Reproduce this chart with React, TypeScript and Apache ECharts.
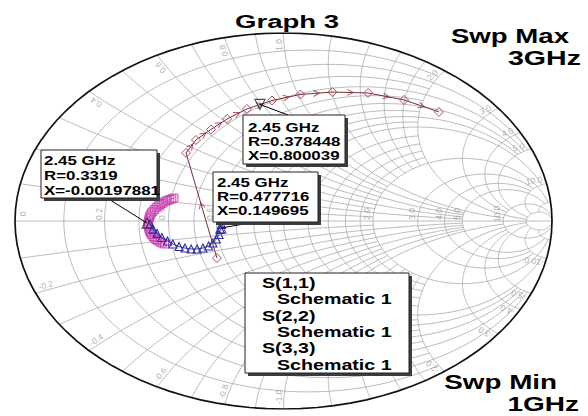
import React, { useEffect, useRef } from "react";
import * as echarts from "echarts";

// ---- Data (reflection coefficient) ----
const S11_RE = [-0.248, -0.363, -0.326, -0.270, -0.210, -0.136, -0.043, 0.063, 0.182, 0.315, 0.449, 0.579];
const S11_IM = [-0.197, 0.362, 0.431, 0.487, 0.543, 0.596, 0.641, 0.673, 0.686, 0.681, 0.644, 0.580];
const S22_RE = [-0.408, -0.416, -0.423, -0.431, -0.438, -0.446, -0.453, -0.460, -0.467, -0.474, -0.480, -0.486, -0.492, -0.496, -0.499, -0.501, -0.503, -0.504, -0.505, -0.503, -0.501, -0.498, -0.495, -0.491, -0.486, -0.481, -0.475, -0.468, -0.460, -0.452, -0.443];
const S22_IM = [0.122, 0.118, 0.114, 0.110, 0.106, 0.100, 0.093, 0.087, 0.080, 0.071, 0.061, 0.052, 0.043, 0.032, 0.021, 0.011, 0.000, -0.011, -0.021, -0.032, -0.043, -0.054, -0.064, -0.073, -0.082, -0.090, -0.098, -0.105, -0.112, -0.117, -0.122];
const S33_RE = [-0.497, -0.486, -0.471, -0.453, -0.432, -0.412, -0.389, -0.367, -0.344, -0.322, -0.300, -0.279, -0.263, -0.250, -0.240, -0.235, -0.231];
const S33_IM = [-0.016, -0.043, -0.066, -0.088, -0.106, -0.122, -0.136, -0.144, -0.149, -0.149, -0.144, -0.133, -0.117, -0.096, -0.072, -0.045, -0.019];
const MARKER_RE = [-0.0875, -0.508, -0.233];
const MARKER_IM = [0.620, -0.011, -0.037];
const ANN_TEXT = [
  ["2.45 GHz", "R=0.3319", "X=-0.00197881"],
  ["2.45 GHz", "R=0.378448", "X=0.800039"],
  ["2.45 GHz", "R=0.477716", "X=0.149695"],
];
const LEGEND_TEXT = ["S(1,1)", "Schematic 1", "S(2,2)", "Schematic 1", "S(3,3)", "Schematic 1"];

// ---- Smith grid spec ----
const R_CIRCLES = [0.1, 0.2, 0.3, 0.4, 0.5, 0.6, 0.7, 0.8, 0.9, 1.0, 1.2, 1.4, 1.6, 1.8, 2.0, 3.0, 4.0, 5.0, 10, 20];
const R_LIMITS = [2, 5, 2, 5, 2, 5, 2, 5, 2, 10, 2, 2, 2, 2, 20, 10, 10, 20, 50, Infinity];
const X_ARCS = [0.1, 0.2, 0.3, 0.4, 0.5, 0.6, 0.7, 0.8, 0.9, 1.0, 1.2, 1.4, 1.6, 1.8, 2.0, 3.0, 4.0, 5.0, 10, 20];
const X_LIMITS = [2, 5, 2, 5, 2, 5, 2, 5, 2, 10, 2, 2, 2, 2, 20, 10, 10, 20, 20, 20];
const R_LABELS = [0, 0.2, 0.4, 0.6, 0.8, 1, 2, 3, 4, 5, 10];
const X_LABELS = [0.2, 0.4, 0.6, 0.8, 1, 2, 3, 4, 5, 10];

const GRID = { left: 15, top: 33, width: 537, height: 376 };
const SX = GRID.width / 2;
const SY = GRID.height / 2;

function gam(r: number, x: number): [number, number] {
  const d = (r + 1) * (r + 1) + x * x;
  return [(r * r + x * x - 1) / d, (2 * x) / d];
}
function rArc(r: number, xmax: number) {
  const pts: [number, number][] = [];
  const N = 100;
  const pm = Math.atan(xmax / (r + 1));
  for (let i = 0; i <= N; i++) {
    const p = -pm + (2 * pm * i) / N;
    pts.push(gam(r, (r + 1) * Math.tan(p)));
  }
  return pts;
}
function xArc(x: number, rmax: number) {
  const pts: [number, number][] = [];
  const N = 100;
  const ax = Math.abs(x);
  const p0 = Math.atan(ax);
  const p1 = Math.max(Math.atan(ax / (rmax + 1)), 1e-5);
  for (let i = 0; i <= N; i++) {
    const p = p0 + ((p1 - p0) * i) / N;
    const r = ax / Math.tan(p) - 1;
    pts.push(gam(Math.max(r, 0), x));
  }
  return pts;
}
const fmt = (v: number) => (v === 0 ? "0" : v.toFixed(1));

export default function App() {
  const ref = useRef<HTMLDivElement>(null);
  useEffect(() => {
    const chart = echarts.init(ref.current!, null, { renderer: "svg" });

    const gridLines: any[] = [];
    R_CIRCLES.forEach((r, i) => gridLines.push({ coords: rArc(r, R_LIMITS[i]) }));
    X_ARCS.forEach((x, i) => {
      gridLines.push({ coords: xArc(x, X_LIMITS[i]) });
      gridLines.push({ coords: xArc(-x, X_LIMITS[i]) });
    });
    gridLines.push({ coords: [[-1, 0], [1, 0]] });

    const labels: any[] = [];
    R_LABELS.forEach((r) => {
      const [gr] = gam(r, 0);
      const dx = r === 0 ? 8 : -6;
      labels.push({ name: fmt(r), value: [gr + dx / SX, 7 / SY], label: { rotate: 90 } });
    });
    X_LABELS.forEach((v) => {
      [v, -v].forEach((x) => {
        const [c, s] = gam(0, x);
        let ux = c * SX, uy = s * SY;
        const L = Math.hypot(ux, uy);
        ux /= L; uy /= L;
        const sg = x > 0 ? 1 : -1;
        const tx = -uy * sg, ty = ux * sg;
        const ox = -12 * ux + 5 * tx, oy = -12 * uy + 5 * ty;
        let ang = (Math.atan2(uy, ux) * 180) / Math.PI;
        if (x < 0) ang += 180;
        if (ang > 180) ang -= 360;
        labels.push({ name: (x < 0 ? "-" : "") + fmt(v), value: [c + ox / SX, s + oy / SY], label: { rotate: ang } });
      });
    });

    const s11 = S11_RE.map((v, i) => [v, S11_IM[i]]);
    const s22 = S22_RE.map((v, i) => [v, S22_IM[i]]);
    const s33 = S33_RE.map((v, i) => [v, S33_IM[i]]);
    const arrows = s11.slice(1).map((p, i) => {
      const q = s11[i];
      const ang = (Math.atan2((p[1] - q[1]) * SY, (p[0] - q[0]) * SX) * 180) / Math.PI;
      return { value: [(p[0] + q[0]) / 2, (p[1] + q[1]) / 2], symbolRotate: ang };
    });

    chart.setOption({
      animation: false,
      backgroundColor: "#ffffff",
      grid: { ...GRID },
      xAxis: { type: "value", min: -1, max: 1, show: false },
      yAxis: { type: "value", min: -1, max: 1, show: false },
      series: [
        {
          type: "lines", coordinateSystem: "cartesian2d", polyline: true, silent: true, z: 1,
          lineStyle: { color: "#ababab", width: 0.8, opacity: 1 },
          data: gridLines,
        },
        {
          type: "lines", coordinateSystem: "cartesian2d", polyline: true, silent: true, z: 3,
          lineStyle: { color: "#111111", width: 1.7, opacity: 1 },
          data: [{ coords: rArc(0, Infinity) }],
        },
        {
          type: "scatter", silent: true, z: 2, symbolSize: 0.1,
          itemStyle: { color: "transparent" },
          label: { show: true, position: "inside", formatter: "{b}", fontSize: 8.5, color: "#9a9a9a", fontFamily: "Liberation Sans" },
          data: labels,
        },
        {
          type: "line", name: "S(2,2)", z: 4, data: s22, symbol: "rect", symbolSize: 8,
          lineStyle: { color: "#c850b8", width: 1 },
          itemStyle: { color: "transparent", borderColor: "#cc44b4", borderWidth: 1 },
        },
        {
          type: "line", name: "S(3,3)", z: 5, data: s33, symbol: "triangle", symbolSize: 8,
          lineStyle: { color: "#33339c", width: 1 },
          itemStyle: { color: "transparent", borderColor: "#2f2fa0", borderWidth: 1.1 },
        },
        {
          type: "line", name: "S(1,1)", z: 6, data: s11, symbol: "diamond", symbolSize: 9,
          lineStyle: { color: "#7a2a34", width: 1 },
          itemStyle: { color: "transparent", borderColor: "#a8505e", borderWidth: 1 },
        },
        {
          type: "scatter", z: 6, silent: true, data: arrows, symbol: "path://M0,0L10,5L0,10", symbolSize: [6, 6],
          itemStyle: { color: "transparent", borderColor: "#8a3a44", borderWidth: 1 },
        },
        {
          type: "scatter", z: 7, silent: true, symbolSize: 10, symbol: "triangle",
          data: [
            { value: [MARKER_RE[0], MARKER_IM[0]], symbolRotate: 180, itemStyle: { borderColor: "#222" } },
            { value: [MARKER_RE[1], MARKER_IM[1]], itemStyle: { borderColor: "#402050" } },
            { value: [MARKER_RE[2], MARKER_IM[2]], itemStyle: { borderColor: "#2a2aa0" } },
          ],
          itemStyle: { color: "transparent", borderWidth: 1.2 },
        },
      ],
    });

    const px = (i: number) => chart.convertToPixel({ gridIndex: 0 }, [MARKER_RE[i], MARKER_IM[i]]) as number[];
    const boxes = [
      { x: 41, y: 150, w: 116, h: 48, rows: [160, 175, 190], tx: 44, anchor: [107, 198], m: 1 },
      { x: 243, y: 115, w: 102, h: 49, rows: [127.5, 141.5, 155.5], tx: 248, anchor: [288, 115], m: 0 },
      { x: 213, y: 172, w: 105, h: 50, rows: [182, 196, 210], tx: 217, anchor: [256, 222], m: 2 },
    ];
    const txt = (text: string, x: number, y: number, size: number, sx: number, align = "left") => ({
      type: "text", x, y, scaleX: sx, z: 120,
      style: {
        text, font: `bold ${size}px "Liberation Sans", Arial, sans-serif`, fill: "#000",
        textAlign: align, align, textVerticalAlign: "middle", verticalAlign: "middle",
      },
    });
    const box = (x: number, y: number, w: number, h: number) => [
      { type: "rect", z: 110, shape: { x: x + 3, y: y + 3, width: w, height: h }, style: { fill: "#3c3c3c" } },
      { type: "rect", z: 111, shape: { x, y, width: w, height: h }, style: { fill: "#fff", stroke: "#222", lineWidth: 1 } },
    ];
    const g: any[] = [];
    boxes.forEach((b, i) => {
      const p = px(b.m);
      g.push({ type: "line", z: 105, shape: { x1: b.anchor[0], y1: b.anchor[1], x2: p[0], y2: p[1] }, style: { stroke: "#000", lineWidth: 1 } });
      g.push(...box(b.x, b.y, b.w, b.h));
      ANN_TEXT[i].forEach((t, j) => g.push(txt(t, b.tx, b.rows[j], 13, 1.3)));
    });
    g.push(...box(245, 273, 164, 100));
    const legRows = [283, 299, 315.5, 331.5, 348, 364.5];
    LEGEND_TEXT.forEach((t, j) => g.push(txt(t, j % 2 === 0 ? 262 : 277, legRows[j], 15, 1.31)));
    g.push(txt("Graph 3", 235, 21.5, 19, 1.45));
    g.push(txt("Swp Max", 569, 36, 20, 1.38, "right"));
    g.push(txt("3GHz", 581, 58.5, 20, 1.43, "right"));
    g.push(txt("Swp Min", 557, 382, 20, 1.39, "right"));
    g.push(txt("1GHz", 579, 404.5, 20, 1.4, "right"));
    chart.setOption({ graphic: g });

    return () => chart.dispose();
  }, []);
  return (
    <div
      ref={ref}
      style={{ position: "absolute", left: 0, top: 0, width: 588, height: 416, background: "#fff" }}
    />
  );
}
